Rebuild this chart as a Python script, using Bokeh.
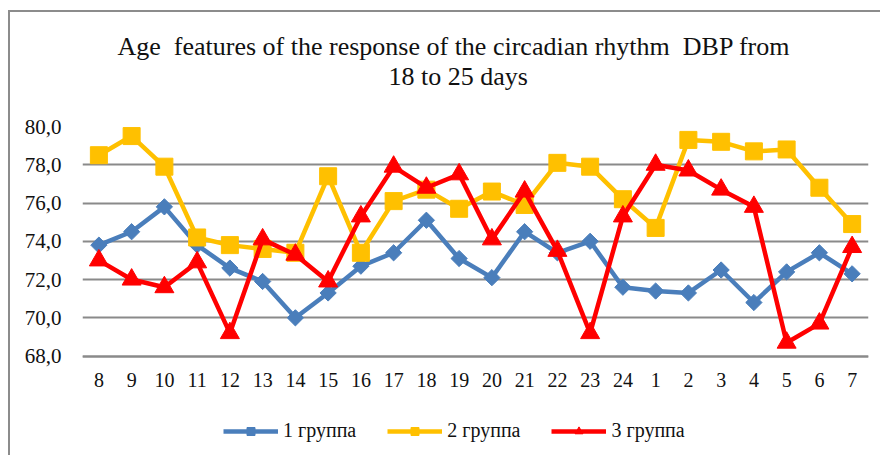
import math
from bokeh.plotting import figure
from bokeh.models import (FactorRange, Range1d, FixedTicker, CustomJSTickFormatter,
                          Legend, LegendItem, Title)
from bokeh.embed import file_html
from bokeh.resources import INLINE

categories = ["8", "9", "10", "11", "12", "13", "14", "15", "16", "17", "18", "19", "20",
              "21", "22", "23", "24", "1", "2", "3", "4", "5", "6", "7"]
group1 = [73.8, 74.5, 75.8, 73.8, 72.6, 71.9, 70.0, 71.3, 72.7, 73.4, 75.1, 73.1, 72.1,
          74.5, 73.4, 74.0, 71.6, 71.4, 71.3, 72.5, 70.8, 72.4, 73.4, 72.3]
group2 = [78.5, 79.5, 77.9, 74.2, 73.8, 73.6, 73.4, 77.4, 73.4, 76.1, 76.7, 75.7, 76.6,
          75.9, 78.1, 77.9, 76.2, 74.7, 79.3, 79.2, 78.7, 78.8, 76.8, 74.9]
group3 = [73.0, 72.0, 71.6, 72.9, 69.2, 74.1, 73.3, 71.9, 75.3, 77.9, 76.8, 77.5, 74.1,
          76.6, 73.5, 69.2, 75.3, 78.0, 77.7, 76.7, 75.8, 68.7, 69.7, 73.7]
series_names = ["1 группа", "2 группа", "3 группа"]
y_ticks = [68, 70, 72, 74, 76, 78, 80]
title_line1 = "Age \u00a0features of the response of the circadian rhythm \u00a0DBP from"
title_line2 = "18 to 25 days"

FONT = "Liberation Serif"
AXIS_MIN, AXIS_MAX = 68, 80

# frame extends below the value axis to leave room for the legend inside it
p = figure(width=872, height=445, x_range=FactorRange(factors=categories),
           y_range=Range1d(62.7, AXIS_MAX), output_backend="svg", toolbar_location=None,
           min_border_left=72, min_border_right=14, min_border_bottom=0, min_border_top=114)
p.styles = {"border-left": "2px solid #8c8c8c", "border-top": "2px solid #8c8c8c",
            "margin-left": "8px", "margin-top": "10px"}
p.outline_line_color = None
p.background_fill_color = "white"
p.border_fill_color = "white"

t2 = Title(text=title_line2, align="left", offset=306, text_font=FONT, text_font_size="26px",
           text_font_style="normal", text_color="#111111", standoff=72)
t1 = Title(text=title_line1, align="left", offset=35, text_font=FONT, text_font_size="26px",
           text_font_style="normal", text_color="#111111", standoff=-74)
p.add_layout(t2, "above")
p.add_layout(t1, "above")

p.xgrid.grid_line_color = None
p.ygrid.grid_line_color = "#8a8a8a"
p.ygrid.grid_line_width = 2
p.yaxis.ticker = FixedTicker(ticks=y_ticks)
p.yaxis.formatter = CustomJSTickFormatter(code="return tick.toFixed(1).replace('.', ',');")
p.yaxis.axis_line_color = None
p.yaxis.major_tick_line_color = None
p.yaxis.minor_tick_line_color = None
p.yaxis.major_label_standoff = 15
p.xaxis.fixed_location = AXIS_MIN
p.xaxis.axis_line_color = "#8a8a8a"
p.xaxis.axis_line_width = 2
p.xaxis.major_tick_line_color = None
p.xaxis.minor_tick_line_color = None
p.xaxis.major_label_standoff = 11
for ax in (p.xaxis, p.yaxis):
    ax.major_label_text_font = FONT
    ax.major_label_text_font_size = "20px"
    ax.major_label_text_color = "#111111"
p.yaxis.major_label_text_font_size = "21px"

colors = ["#4a7ebb", "#ffc000", "#ff0000"]
items = []
specs = [
    (group1, dict(marker="square", angle=math.pi / 4, size=11.5)),
    (group2, dict(marker="square", size=17)),
    (group3, dict(marker="triangle", size=19)),
]
for (vals, mk), col, name in zip(specs, colors, series_names):
    l = p.line(categories, vals, line_color=col, line_width=4.5)
    s = p.scatter(categories, vals, fill_color=col, line_color=col, **mk)
    items.append(LegendItem(label=name, renderers=[l, s]))

legend = Legend(items=items, orientation="horizontal", location=(141, 15), margin=0,
                label_text_font=FONT, label_text_font_size="20px", label_text_color="#111111",
                glyph_width=55, glyph_height=20, label_standoff=5, spacing=31,
                padding=4, border_line_color=None, background_fill_alpha=0)
p.add_layout(legend, "center")

open("out.html", "w").write(file_html(p, INLINE))
